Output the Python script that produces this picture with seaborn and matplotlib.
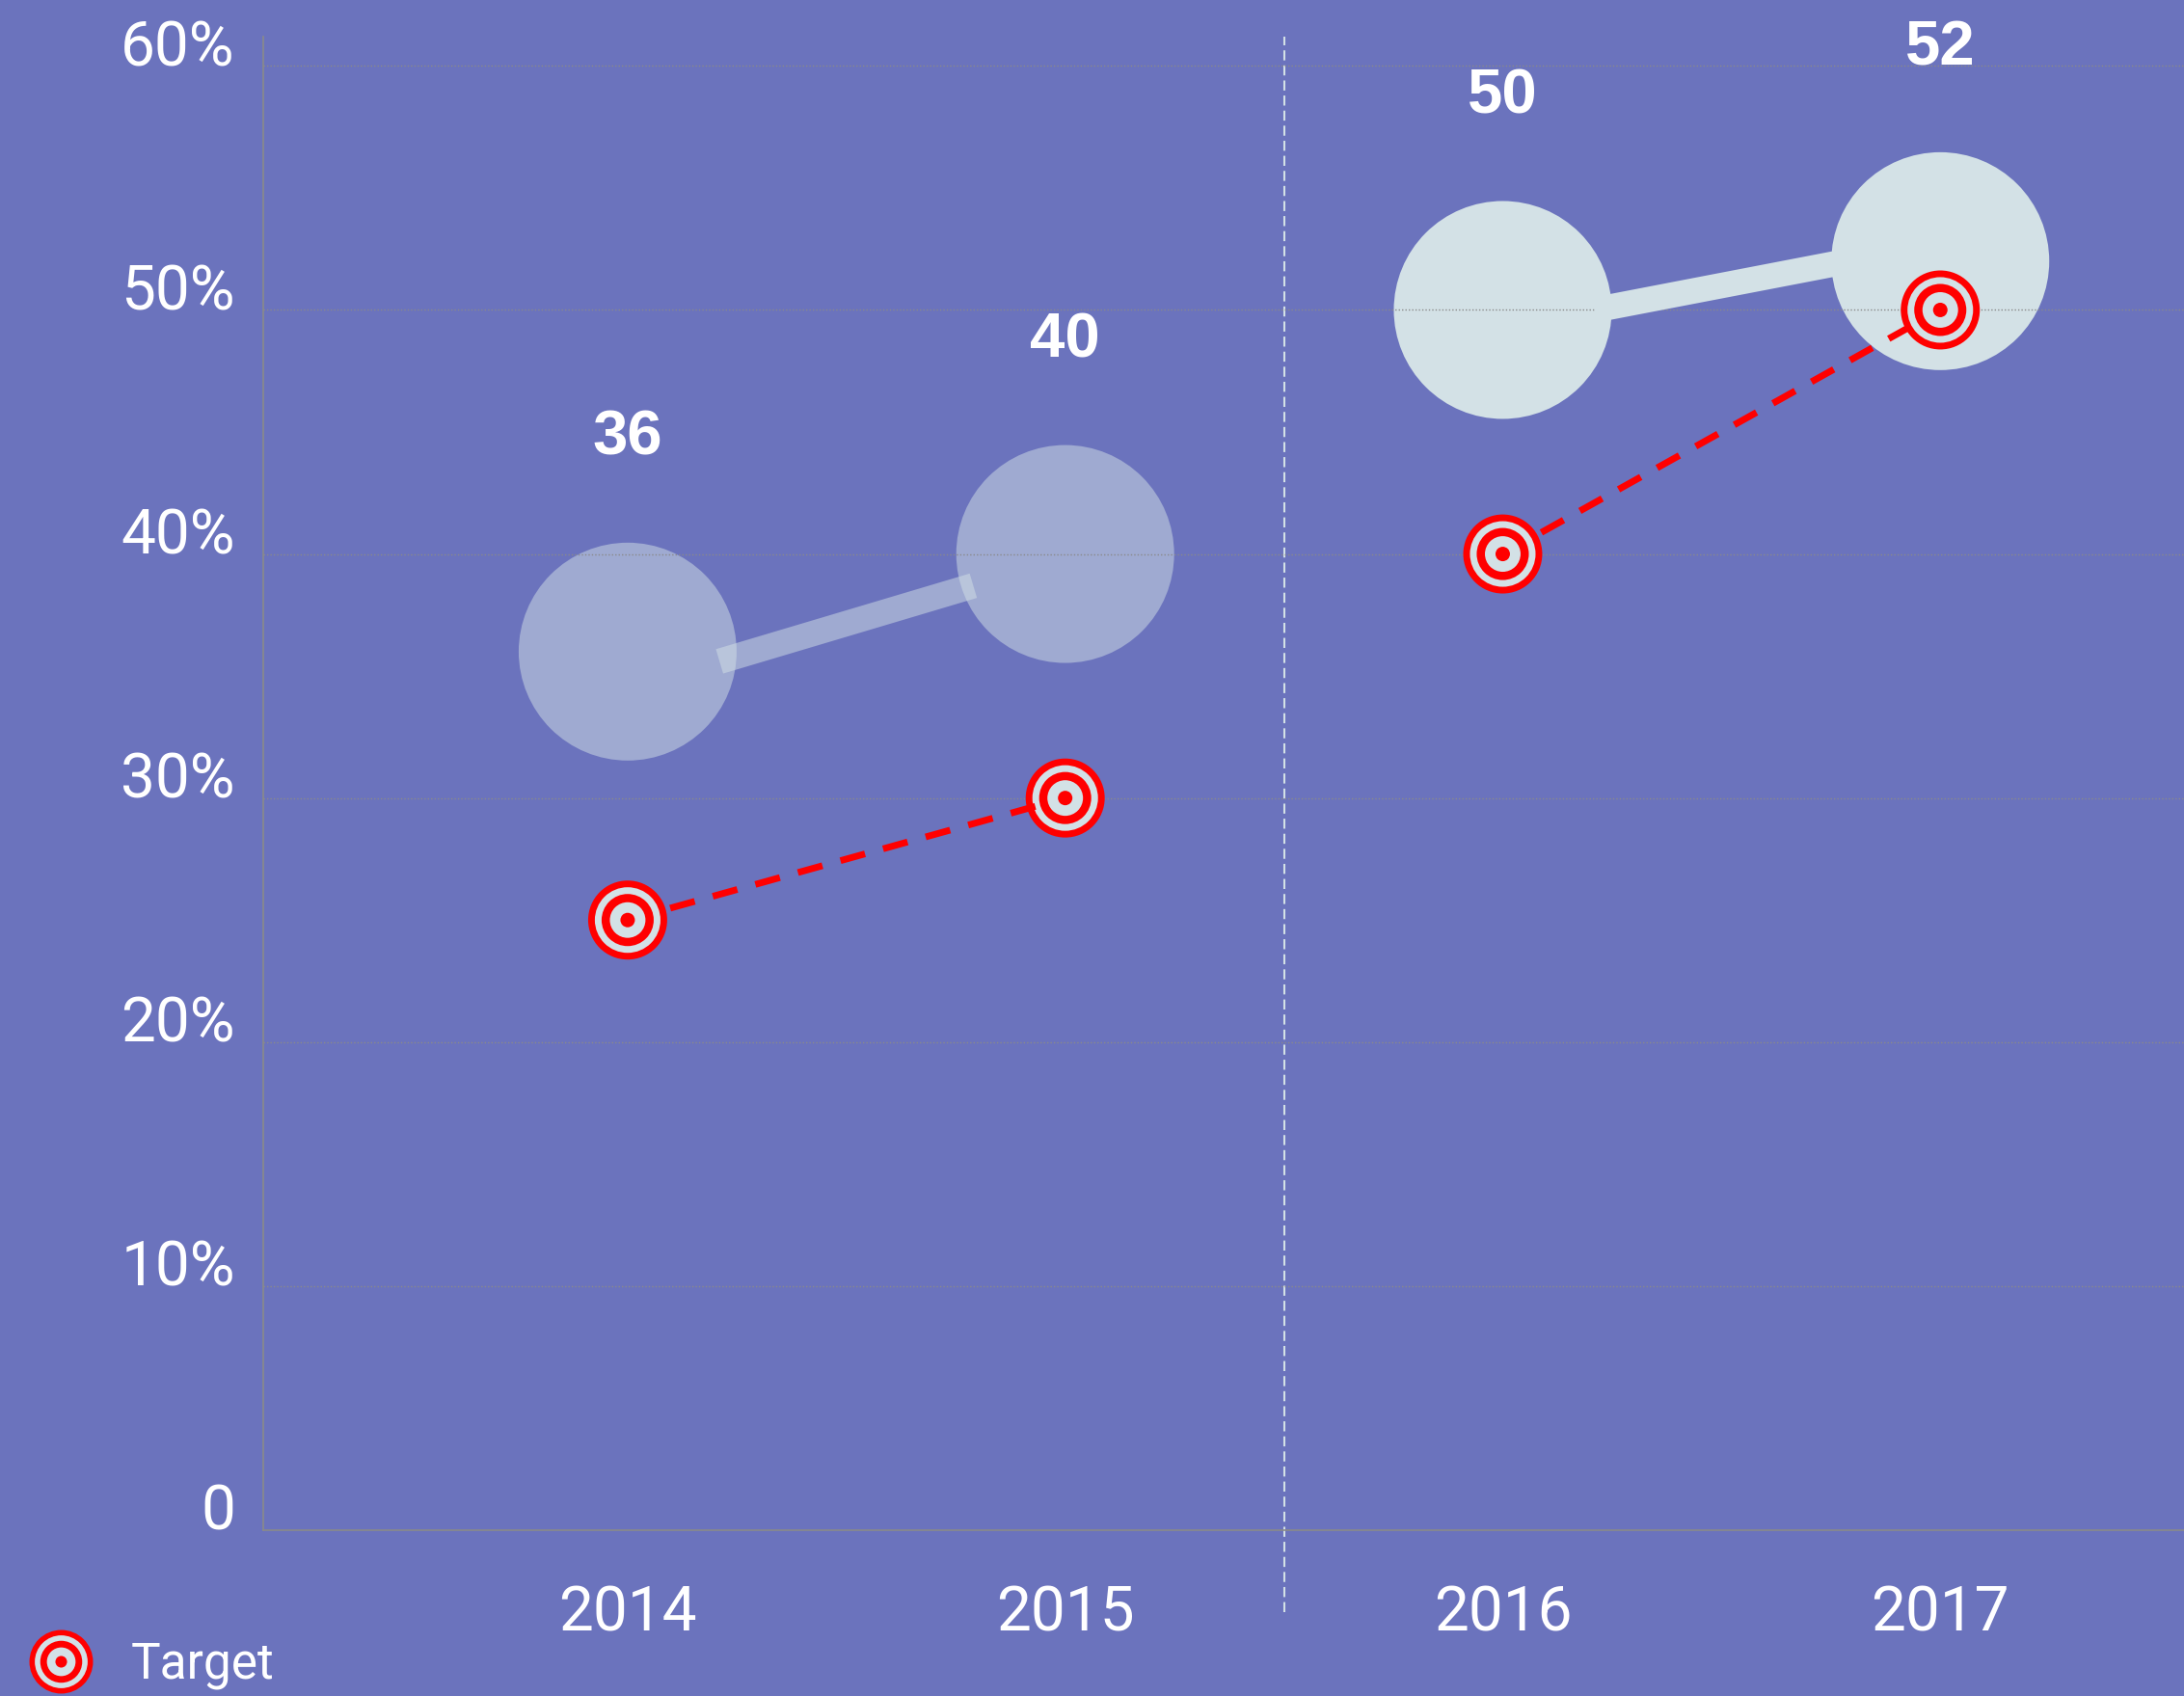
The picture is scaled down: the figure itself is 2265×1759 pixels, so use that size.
import numpy as np
import pandas as pd
import matplotlib
matplotlib.use("Agg")
import matplotlib.pyplot as plt
import seaborn as sns
from matplotlib.lines import Line2D
from matplotlib.legend_handler import HandlerTuple

# ---------------- data ----------------
years = ["2014", "2015", "2016", "2017"]
actual = [36, 40, 50, 52]
target = [25, 30, 40, 50]
link_start = [35.6, 50.0]   # connector level leaving first bubble of each pair
link_end = [38.7, 52.0]     # connector level reaching second bubble of each pair
y_ticks = [0, 10, 20, 30, 40, 50, 60]
y_tick_labels = ["0", "10%", "20%", "30%", "40%", "50%", "60%"]
legend_label = "Target"

# ---------------- style ----------------
BG = "#6B73BD"
LIGHT = "#D3E1E6"
RED = "#FF0000"
GRID = "#8A8A8A"

sns.set_style("white", rc={"axes.facecolor": BG, "figure.facecolor": BG})
plt.rcParams["font.family"] = ["Roboto", "DejaVu Sans"]

fig = plt.figure(figsize=(22.65, 17.59), dpi=100)
ax = fig.add_axes([0.1205, 0.0978, 0.8795, 0.8806])

df = pd.DataFrame({"year": years, "x": np.arange(len(years)),
                   "actual": actual, "target": target})
pairs = [(0, 1), (2, 3)]
pair_alpha = [0.5, 1.0]

# bubbles
bubble_s = 162.7 ** 2
for (a, b), al in zip(pairs, pair_alpha):
    sns.scatterplot(data=df.iloc[a:b + 1], x="x", y="actual", s=bubble_s,
                    color=LIGHT, alpha=al, linewidth=0, edgecolor="none",
                    ax=ax, zorder=2, legend=False)

# connectors between bubbles
gap = 0.21
for i, ((a, b), al) in enumerate(zip(pairs, pair_alpha)):
    ax.plot([df.x[a] + gap, df.x[b] - gap], [link_start[i], link_end[i]],
            color=LIGHT, alpha=al, lw=19, solid_capstyle="butt", zorder=3)

# value labels
for xv, v in zip(df.x, df.actual):
    ax.annotate(str(v), (xv, v), xytext=(0, 159), textcoords="offset points",
                ha="center", va="center", fontsize=47, fontweight="bold",
                color="white", family=["Liberation Sans", "DejaVu Sans"],
                zorder=7)

# target markers (concentric rings)
ring_d = [59, 49, 38.9, 26.6, 10.8]
ring_c = [RED, LIGHT, RED, LIGHT, RED]
ring_z = [4, 4.1, 6, 6.1, 6.2]
for d, c, z in zip(ring_d, ring_c, ring_z):
    sns.scatterplot(data=df, x="x", y="target", s=d ** 2, color=c,
                    linewidth=0, edgecolor="none", ax=ax, zorder=z, legend=False)

# dashed target connectors
for a, b in pairs:
    ax.plot(df.x[a:b + 1], df.target[a:b + 1], color=RED, lw=5,
            linestyle=(0, (3.8, 2.8)), zorder=5, dash_capstyle="butt")

# divider
ax.axvline(1.5, ymin=-0.055, ymax=1, color=LIGHT, lw=1.5,
           linestyle=(0, (5, 2.5)), clip_on=False, zorder=1)

# axes
ax.set_xlim(-0.833, 3.557)
ax.set_ylim(0, 61.2)
ax.set_xticks(df.x, years)
ax.set_yticks(y_ticks, y_tick_labels)
ax.set_xlabel("")
ax.set_ylabel("")
ax.tick_params(axis="both", length=0, labelsize=46, colors="white")
ax.tick_params(axis="x", pad=40)
ax.tick_params(axis="y", pad=21)
plt.setp(ax.get_xticklabels(), fontweight="normal")
plt.setp(ax.get_yticklabels(), fontweight="normal", va="baseline")

ax.set_axisbelow(False)
ax.yaxis.grid(True, color=GRID, linestyle=(0, (1, 1.5)), lw=1.0)
ax.xaxis.grid(False)
for side in ["top", "right"]:
    ax.spines[side].set_visible(False)
for side in ["left", "bottom"]:
    ax.spines[side].set_color(GRID)
    ax.spines[side].set_linewidth(1.2)

# legend
handles = tuple(Line2D([], [], ls="none", marker="o", markersize=d * 0.805,
                       markerfacecolor=c, markeredgewidth=0)
                for d, c in zip(ring_d, ring_c))
leg = ax.legend([handles], [legend_label],
                handler_map={tuple: HandlerTuple(ndivide=1, pad=0)},
                loc="center left", bbox_to_anchor=(0.01325, 0.0182),
                bbox_transform=fig.transFigure, frameon=False, fontsize=37,
                labelcolor="white", handlelength=1.3, handletextpad=0.75,
                borderpad=0, borderaxespad=0, numpoints=1)

fig.savefig("out.png", dpi=100, facecolor=BG)
